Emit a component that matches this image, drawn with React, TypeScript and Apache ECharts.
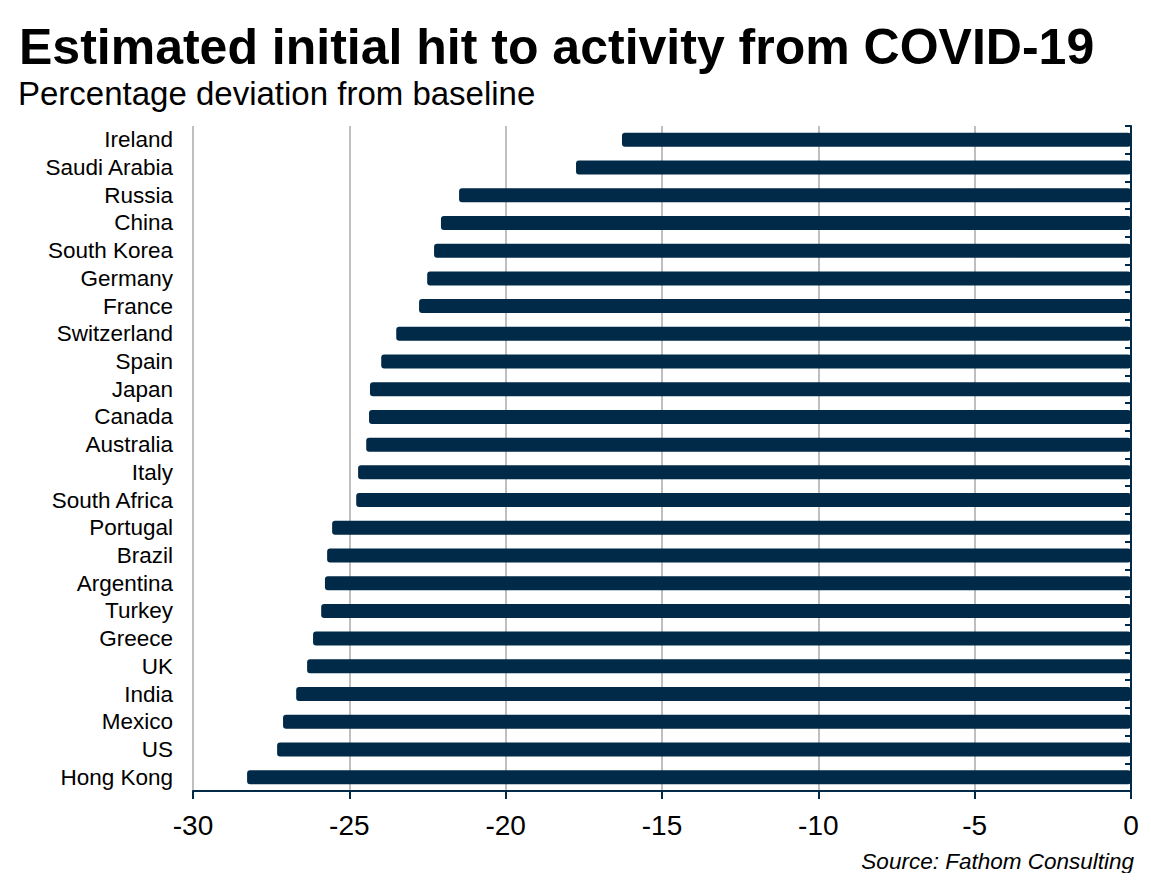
import React, { useEffect, useRef } from "react";
import * as echarts from "echarts";

const countries = [
  "Ireland", "Saudi Arabia", "Russia", "China", "South Korea", "Germany", "France",
  "Switzerland", "Spain", "Japan", "Canada", "Australia", "Italy", "South Africa",
  "Portugal", "Brazil", "Argentina", "Turkey", "Greece", "UK", "India", "Mexico",
  "US", "Hong Kong",
];
const hitValues = [
  -16.28, -17.75, -21.49, -22.07, -22.29, -22.51, -22.77, -23.5, -23.98, -24.34,
  -24.37, -24.46, -24.72, -24.78, -25.55, -25.71, -25.78, -25.9, -26.16, -26.35,
  -26.7, -27.12, -27.31, -28.27,
];
const titleText = "Estimated initial hit to activity from COVID-19";
const subtitleText = "Percentage deviation from baseline";
const sourceText = "Source: Fathom Consulting";

const NAVY = "#002A48";
const FONT = "Liberation Sans, Arial, sans-serif";

export default function App() {
  const ref = useRef<HTMLDivElement>(null);
  useEffect(() => {
    if (!ref.current) return;
    const chart = echarts.init(ref.current, null, { renderer: "svg" });
    chart.setOption({
      animation: false,
      backgroundColor: "#ffffff",
      textStyle: { fontFamily: FONT },
      title: [
        {
          text: titleText,
          left: 14,
          top: 17,
          textStyle: { fontFamily: FONT, fontSize: 50, fontWeight: "bold", color: "#000" },
        },
        {
          text: subtitleText,
          left: 13,
          top: 72,
          textStyle: { fontFamily: FONT, fontSize: 33, fontWeight: "normal", color: "#000" },
        },
        {
          text: sourceText,
          right: 12,
          top: 845,
          textStyle: { fontFamily: FONT, fontSize: 22.5, fontStyle: "italic", fontWeight: "normal", color: "#000" },
        },
      ],
      grid: { left: 193, right: 20, top: 126, bottom: 90, containLabel: false },
      xAxis: {
        type: "value",
        min: -30,
        max: 0,
        interval: 5,
        axisLine: { show: true, onZero: false, lineStyle: { color: NAVY, width: 2 } },
        axisTick: { show: true, length: 8, lineStyle: { color: NAVY, width: 2 } },
        axisLabel: { color: "#000", fontSize: 28, fontFamily: FONT, margin: 20 },
        splitLine: { show: true, lineStyle: { color: "#BFBFBF", width: 2 } },
      },
      yAxis: [
        {
          type: "category",
          data: countries,
          inverse: true,
          position: "left",
          axisLine: { show: false, onZero: false },
          axisTick: { show: false },
          axisLabel: { color: "#000", fontSize: 22.5, fontFamily: FONT, margin: 20, interval: 0 },
        },
        {
          type: "category",
          data: countries,
          inverse: true,
          position: "right",
          axisLine: { show: true, onZero: false, lineStyle: { color: NAVY, width: 2 } },
          axisTick: { show: true, inside: true, length: 6, interval: 0, lineStyle: { color: NAVY, width: 2 } },
          axisLabel: { show: false },
        },
      ],
      series: [
        {
          type: "bar",
          data: hitValues,
          yAxisIndex: 0,
          barWidth: 14,
          itemStyle: { color: NAVY, borderRadius: 3 },
        },
      ],
    });
    return () => chart.dispose();
  }, []);
  return <div ref={ref} style={{ width: 1151, height: 881, margin: -8 }} />;
}
